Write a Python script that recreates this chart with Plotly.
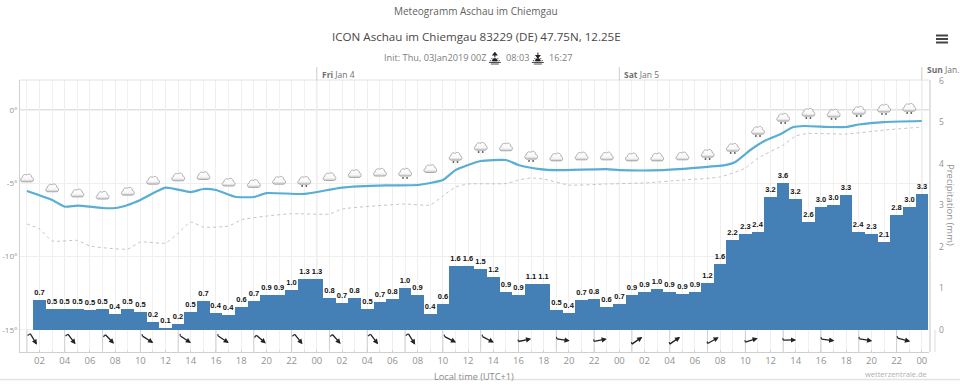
import math
import urllib.parse
import plotly.graph_objects as go

# hours after 03 Jan 2019 00:00 local time
bar_hours = list(range(2, 73))
precip_values = [0.72, 0.51, 0.50, 0.50, 0.48, 0.50, 0.38, 0.51, 0.43, 0.20, 0.04, 0.15, 0.44, 0.70, 0.41, 0.36,
                 0.55, 0.71, 0.85, 0.84, 0.96, 1.23, 1.23, 0.78, 0.66, 0.78, 0.50, 0.67, 0.75, 1.00, 0.84, 0.39,
                 0.62, 1.55, 1.53, 1.46, 1.27, 0.92, 0.84, 1.10, 1.10, 0.47, 0.41, 0.72, 0.75, 0.56, 0.63, 0.84,
                 0.91, 0.98, 0.92, 0.86, 0.91, 1.14, 1.59, 2.16, 2.31, 2.37, 3.20, 3.53, 3.16, 2.59, 2.95, 3.00,
                 3.25, 2.37, 2.30, 2.12, 2.78, 2.95, 3.28]
precip_labels = ["0.7", "0.5", "0.5", "0.5", "0.5", "0.5", "0.4", "0.5", "0.5", "0.2", "0.1", "0.2", "0.5", "0.7",
                 "0.4", "0.4", "0.6", "0.7", "0.9", "0.9", "1.0", "1.3", "1.3", "0.8", "0.7", "0.8", "0.5", "0.7",
                 "0.8", "1.0", "0.9", "0.4", "0.6", "1.6", "1.6", "1.5", "1.2", "0.9", "0.9", "1.1", "1.1", "0.5",
                 "0.4", "0.7", "0.8", "0.6", "0.7", "0.9", "0.9", "1.0", "0.9", "0.9", "0.9", "1.2", "1.6", "2.2",
                 "2.3", "2.4", "3.2", "3.6", "3.2", "2.6", "3.0", "3.0", "3.3", "2.4", "2.3", "2.1", "2.8", "3.0",
                 "3.3"]

temp_hours = [1, 3, 4, 5, 7, 8, 9, 10, 12, 14, 15, 16, 17.5, 19, 20, 23, 26, 29.5, 32, 33, 34, 35, 36, 37, 39, 40,
              41.7, 43, 47, 48, 51.5, 54.5, 56.5, 57.2, 58.4, 59.5, 60.8, 61.8, 62.7, 64.7, 66, 67, 69, 72]
temp_values = [-5.53, -6.14, -6.6, -6.52, -6.69, -6.69, -6.48, -6.14, -5.30, -5.6, -5.39, -5.46, -5.92, -5.94, -5.67,
               -5.73, -5.30, -5.15, -5.12, -4.98, -4.78, -4.1, -3.75, -3.48, -3.41, -3.75, -4.03, -4.1, -4.03, -4.1,
               -4.1, -3.92, -3.75, -3.55, -2.73, -2.12, -1.64, -1.16, -1.09, -1.16, -1.16, -0.99, -0.82, -0.75]

dew_hours = [1, 2, 3, 5, 6, 9, 10, 12, 13, 14, 15, 17, 18, 20, 22, 25, 26, 31, 33, 34, 35, 36, 39, 40, 41, 42, 44,
             47, 50, 53, 56, 58, 59, 61, 62, 63, 66, 69, 72]
dew_values = [-7.78, -8.12, -8.94, -8.9, -9.28, -9.49, -9.01, -9.08, -8.4, -7.65, -7.99, -7.92, -7.5, -7.24, -7.08,
              -7.1, -6.76, -6.42, -6.48, -5.87, -5.26, -5.05, -5.02, -4.78, -4.64, -4.71, -5.12, -5.05, -4.98,
              -4.78, -4.57, -3.96, -3.28, -2.39, -1.77, -1.6, -1.64, -1.37, -1.16]

icon_hours = list(range(1, 72, 2))
icon_levels = [-4.62, -5.30, -5.65, -5.80, -5.53, -4.78, -4.55, -4.46, -4.91, -5.0, -4.78, -4.78, -4.53, -4.32, -4.23,
               -4.23, -3.98, -3.14, -2.46, -2.5, -3.07, -3.19, -3.12, -3.12, -3.19, -3.19, -3.12, -2.94, -2.53,
               -1.37, -0.48, -0.14, -0.2, 0.0, 0.14, 0.2]
icon_snow = [0, 0, 0, 0, 0, 0, 0, 0, 0, 0, 0, 1, 0, 0, 0, 1, 0, 1, 1, 0, 1, 0, 0, 0, 0, 0, 0, 1, 1, 1, 1, 1, 1, 1, 1, 1]

wind_hours = list(range(1, 71, 3))
wind_angles = [59, 53, 46, 32, 34, 33, 41, 52, 49, 53, 58, 27, 28, -12, 8, -11, -35, -35, -29, -17, -1, 7, 9, 15]

hour_ticks = list(range(2, 73, 2))
hour_labels = ["02", "04", "06", "08", "10", "12", "14", "16", "18", "20", "22", "00",
               "02", "04", "06", "08", "10", "12", "14", "16", "18", "20", "22", "00",
               "02", "04", "06", "08", "10", "12", "14", "16", "18", "20", "22", "00"]
day_hours = [24, 48, 72]
day_labels = ["<b>Fri</b> Jan 4", "<b>Sat</b> Jan 5", "<b>Sun</b> Jan."]
day_label_rows = [74, 74, 70]

temp_ticks = [0, -5, -10, -15]
temp_tick_labels = ["0°", "-5°", "-10°", "-15°"]
precip_ticks = [0, 1, 2, 3, 4, 5, 6]

PL, PR, PT, PB = 20.3, 929.0, 80.0, 352.0
FONT = "Open Sans"
GREY = "#929292"


def fx(px):
    return (px - PL) / (PR - PL)


def fy(py):
    return (PB - py) / (PB - PT)


def svg(body, box):
    s = f'<svg xmlns="http://www.w3.org/2000/svg" viewBox="{box}">{body}</svg>'
    return "data:image/svg+xml," + urllib.parse.quote(s)


CLOUD = ('<defs><linearGradient id="g" x1="0" y1="0" x2="0" y2="1"><stop offset="0" stop-color="#ffffff"/>'
         '<stop offset="0.65" stop-color="#f8f8f8"/><stop offset="1" stop-color="#c8c8c8"/></linearGradient></defs>'
         '<path d="M6 18C1 18 0 11 5 10C5 5 10 2 14 5C16 1 23 3 23 9C28 10 28 18 22 18Z" fill="url(#g)" '
         'stroke="#8e8e8e" stroke-width="1.3"/>')
DOTS = '<circle cx="10" cy="21.5" r="1.8" fill="#555"/><circle cx="18" cy="21.5" r="1.8" fill="#555"/>'
cloud_plain = svg(CLOUD, "0 -4 28 28")
cloud_snow = svg(CLOUD + DOTS, "0 -4 28 28")
SUN = ('<path d="M1 21H25M5 24H21M8 18A5 5 0 0 1 18 18Z" stroke="#222" stroke-width="1.6" fill="#222"/>'
       '<path d="M3 17L6 18M23 17L20 18M6 12L8 14M20 12L18 14" stroke="#222" stroke-width="1.6"/>')
sunrise = svg(SUN + '<path d="M13 11V3M9 6L13 1L17 6Z" stroke="#222" stroke-width="2" fill="#222"/>', "0 0 26 26")
sunset = svg(SUN + '<path d="M13 1V9M9 7L13 12L17 7Z" stroke="#222" stroke-width="2" fill="#222"/>', "0 0 26 26")

fig = go.Figure()
fig.add_trace(go.Scatter(x=dew_hours, y=dew_values, mode="lines", yaxis="y",
                         line=dict(color="#c4c4c4", width=1, dash="dot", shape="spline", smoothing=0.5),
                         hoverinfo="skip"))
fig.add_trace(go.Scatter(x=temp_hours, y=temp_values, mode="lines", yaxis="y",
                         line=dict(color="#58aed4", width=2.2, shape="spline", smoothing=0.5),
                         hoverinfo="skip"))
fig.add_trace(go.Bar(x=bar_hours, y=precip_values, yaxis="y2", width=1.0, marker=dict(color="#4480b6", line_width=0),
                     text=precip_labels, textposition="outside", cliponaxis=False, textangle=0,
                     constraintext="none",
                     textfont=dict(family="Liberation Sans", size=7.5, color="#111", weight="bold"),
                     hoverinfo="skip"))

images = []
for h, lvl, snow in zip(icon_hours, icon_levels, icon_snow):
    images.append(dict(source=cloud_snow if snow else cloud_plain, xref="x", yref="y", x=h, y=lvl,
                       sizex=1.15, sizey=1.0, xanchor="center", yanchor="middle", sizing="contain", layer="above"))
images.append(dict(source=sunrise, xref="paper", yref="paper", x=fx(495), y=fy(58.5), sizex=13 / (PR - PL),
                   sizey=13 / (PB - PT), xanchor="center", yanchor="middle", layer="above"))
images.append(dict(source=sunset, xref="paper", yref="paper", x=fx(538), y=fy(58.5), sizex=13 / (PR - PL),
                   sizey=13 / (PB - PT), xanchor="center", yanchor="middle", layer="above"))

shapes = [
    dict(type="rect", xref="paper", yref="y", x0=0, x1=1, y0=-15, y1=-16.52, fillcolor="white",
         line_width=0, layer="between"),
    dict(type="line", xref="paper", yref="y", x0=0, x1=1, y0=0, y1=0, line=dict(color="#c2c2c2", width=1),
         layer="between"),
    dict(type="line", xref="paper", yref="paper", x0=0, x1=1, y0=1, y1=1, line=dict(color="#e2e2e2", width=1)),
    dict(type="line", xref="paper", yref="paper", x0=fx(-5), x1=fx(965), y0=fy(379.5), y1=fy(379.5),
         line=dict(color="#e3e3e3", width=1.5)),
    dict(type="line", xref="paper", yref="paper", x0=fx(935), x1=fx(935), y0=fy(330), y1=fy(352),
         line=dict(color="#dddddd", width=1)),
    dict(type="line", xref="paper", yref="paper", x0=fx(930), x1=fx(930), y0=fy(80), y1=fy(352),
         line=dict(color="#d8d8d8", width=1.5)),
]
for d in day_hours:
    shapes.append(dict(type="line", xref="x", yref="paper", x0=d, x1=d, y0=fy(80), y1=fy(67),
                       line=dict(color="#cccccc", width=1)))
    shapes.append(dict(type="line", xref="x", yref="paper", x0=d, x1=d, y0=fy(330), y1=fy(80),
                       line=dict(color="#dcdcdc", width=1), layer="between"))
for h in wind_hours:
    shapes.append(dict(type="line", xref="x", yref="y", x0=h, x1=h, y0=-15, y1=-16.52,
                       line=dict(color="#cfcfcf", width=1), layer="between"))
for py in (35.5, 39.0, 42.5):
    shapes.append(dict(type="rect", xref="paper", yref="paper", x0=fx(936), x1=fx(948), y0=fy(py + 1), y1=fy(py - 1),
                       fillcolor="#444444", line_width=0))


def label(text, px, py, size, color="#666", anchor="center", angle=0, family=FONT):
    return dict(text=text, xref="paper", yref="paper", x=fx(px), y=fy(py), xanchor=anchor, yanchor="middle",
                showarrow=False, textangle=angle, font=dict(family=family, size=size, color=color))


anns = [
    label("Meteogramm Aschau im Chiemgau", 476, 11, 10, "#5f5f5f"),
    label("ICON Aschau im Chiemgau 83229 (DE) 47.75N, 12.25E", 477, 37, 11.6, "#484848"),
    label("Init: Thu, 03Jan2019 00Z", 382, 57.5, 9.2, "#808080", "left"),
    label("08:03", 504, 57.5, 9.2, "#808080", "left"),
    label("16:27", 547, 57.5, 9.2, "#808080", "left"),
    label("Local time (UTC+1)", 474, 376, 9.2, "#8a8a8a"),
    label("wetterzentrale.de", 929, 374, 7.5, "#b0b0b0", "right"),
    label("Precipitation (mm)", 951, 205, 9.5, GREY, angle=90),
]
for d, t, row in zip(day_hours, day_labels, day_label_rows):
    anns.append(dict(text=t, xref="x", yref="paper", x=d, y=fy(row), xanchor="left", yanchor="middle", xshift=3,
                     showarrow=False, font=dict(family=FONT, size=8.5, color="#707070")))

ARROW_LEN = 14.5
BARB_LEN = 5.0
for h, a in zip(wind_hours, wind_angles):
    r = math.radians(a)
    dx, dy = ARROW_LEN * math.cos(r), ARROW_LEN * math.sin(r)
    off = BARB_LEN * max(0.0, math.sin(r)) * 0.8
    shift_y = dy / 2
    anns.append(dict(text="", xref="x", yref="y", x=h, y=-15.7, xshift=off, yshift=shift_y, ax=dx, ay=dy,
                     axref="pixel", ayref="pixel", showarrow=True, arrowside="start", startarrowhead=2,
                     startarrowsize=0.8, arrowwidth=1.3, arrowcolor="#222222"))
    if a >= 40:
        bx, by = -BARB_LEN * math.sin(r), BARB_LEN * math.cos(r)
    else:
        bx, by = -0.8, -3.5
    anns.append(dict(text="", xref="x", yref="y", x=h, y=-15.7, xshift=off, yshift=shift_y, ax=bx, ay=by,
                     axref="pixel", ayref="pixel", showarrow=True, arrowhead=0, arrowwidth=1.2,
                     arrowcolor="#333333"))

fig.update_layout(
    width=960, height=389, autosize=False, showlegend=False,
    margin=dict(l=PL, r=960 - PR, t=PT, b=389 - PB, pad=0, autoexpand=False),
    paper_bgcolor="white", plot_bgcolor="white", bargap=0,
    font=dict(family=FONT, color=GREY),
    xaxis=dict(range=[0.45, 72.57], tickmode="array", tickvals=hour_ticks, ticktext=hour_labels, showgrid=True,
               gridcolor="#eeeeee", gridwidth=1, zeroline=False, showline=True, linecolor="#cfcfcf",
               ticks="inside", ticklen=2, tickcolor="#cfcfcf", tickfont=dict(size=9.5, color=GREY),
               minor=dict(dtick=1, tick0=0, showgrid=True, gridcolor="#f1f1f1", ticks="inside", ticklen=2,
                          tickcolor="#dddddd")),
    yaxis=dict(range=[-16.52, 2.05], tickmode="array", tickvals=temp_ticks, ticktext=temp_tick_labels,
               showgrid=True, gridcolor="#efefef", zeroline=False, showline=True, linecolor="#d0d0d0",
               ticks="", tickfont=dict(size=8, color=GREY)),
    yaxis2=dict(range=[-0.53, 6.02], overlaying="y", side="right", tickmode="array", tickvals=precip_ticks,
                showgrid=False, zeroline=False, showline=False, ticks="", ticklabelstandoff=9,
                tickfont=dict(size=8.5, color=GREY)),
    images=images, shapes=shapes, annotations=anns,
)

fig.write_html("out.html", config=dict(displayModeBar=False),
               post_script="document.body.style.margin='0';document.documentElement.style.overflow='hidden';")
